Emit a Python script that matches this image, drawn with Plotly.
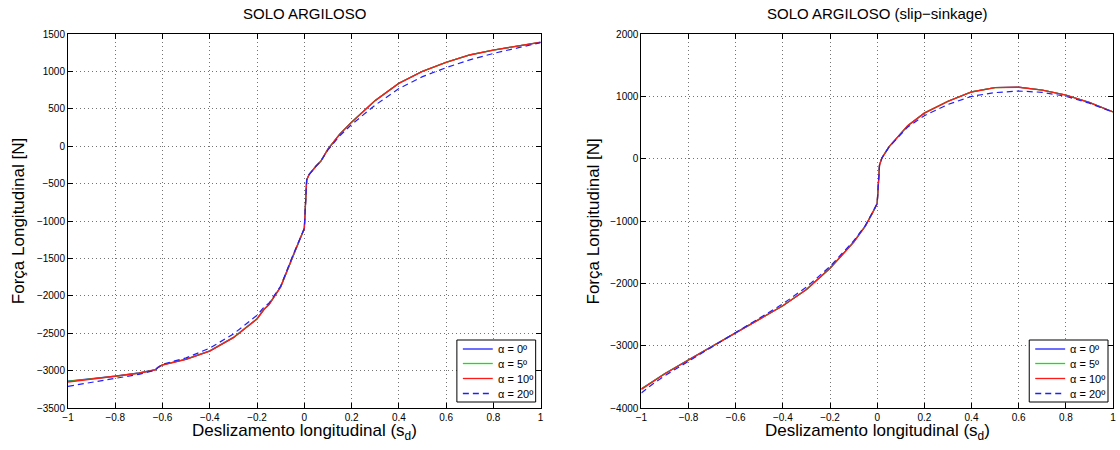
import plotly.graph_objects as go

# ---------------- data: left plot (SOLO ARGILOSO) ----------------
s_left = [-1.0, -0.9, -0.8, -0.7, -0.63, -0.62, -0.6, -0.5, -0.4, -0.3, -0.2, -0.17,
          -0.15, -0.1, -0.05, -0.01, 0.0, 0.01, 0.02, 0.05, 0.07, 0.1, 0.15, 0.2,
          0.25, 0.3, 0.4, 0.5, 0.6, 0.7, 0.8, 0.9, 1.0]
f_left_a0 = [-3140, -3108, -3075, -3030, -2988, -2958, -2922, -2846, -2736, -2556, -2306, -2178,
             -2118, -1880, -1480, -1180, -1100, -450, -380, -265, -200, -40, 162, 322,
             472, 612, 842, 1002, 1122, 1220, 1286, 1341, 1390]
f_left_a5 = [-3145, -3112, -3078, -3033, -2989, -2959, -2923, -2848, -2738, -2558, -2308, -2179,
             -2119, -1880, -1480, -1180, -1100, -450, -380, -265, -200, -40, 161, 321,
             471, 611, 841, 1001, 1121, 1220, 1285, 1340, 1390]
f_left_a10 = [-3152, -3116, -3081, -3036, -2990, -2960, -2925, -2850, -2740, -2560, -2310, -2180,
              -2120, -1880, -1480, -1180, -1100, -450, -380, -265, -200, -40, 160, 320,
              470, 610, 840, 1000, 1120, 1220, 1285, 1340, 1390]
f_left_a20 = [-3210, -3160, -3110, -3050, -2995, -2960, -2915, -2830, -2700, -2510, -2260, -2150,
              -2100, -1870, -1470, -1180, -1100, -450, -380, -265, -200, -50, 140, 290,
              420, 550, 770, 930, 1050, 1155, 1240, 1315, 1385]

# ---------------- data: right plot (slip-sinkage) ----------------
s_right = [-1.0, -0.95, -0.9, -0.8, -0.7, -0.6, -0.5, -0.4, -0.3, -0.2, -0.1, -0.05,
           -0.02, 0.0, 0.01, 0.02, 0.05, 0.08, 0.1, 0.13, 0.2, 0.3, 0.4, 0.5,
           0.6, 0.7, 0.8, 0.9, 1.0]
f_right_a0 = [-3690, -3565, -3445, -3228, -3008, -2788, -2578, -2358, -2098, -1758, -1340, -1080,
              -870, -720, -100, 10, 190, 320, 400, 530, 732, 922, 1072, 1142,
              1147, 1102, 1022, 902, 752]
f_right_a5 = [-3695, -3568, -3448, -3229, -3009, -2789, -2579, -2359, -2099, -1759, -1340, -1080,
              -870, -720, -100, 10, 190, 320, 400, 530, 731, 921, 1071, 1141,
              1146, 1101, 1021, 901, 751]
f_right_a10 = [-3700, -3570, -3450, -3230, -3010, -2790, -2580, -2360, -2100, -1760, -1340, -1080,
               -870, -720, -100, 10, 190, 320, 400, 530, 730, 920, 1070, 1140,
               1145, 1100, 1020, 900, 750]
f_right_a20 = [-3760, -3610, -3480, -3250, -3020, -2790, -2570, -2330, -2060, -1730, -1320, -1070,
               -865, -720, -100, 10, 185, 310, 385, 510, 690, 870, 1000, 1060,
               1085, 1065, 1000, 890, 745]

series_names = ["α = 0º", "α = 5º", "α = 10º", "α = 20º"]
series_colors = ["#2020ff", "#00ee00", "#ff1a1a", "#2020ff"]
series_dash = ["solid", "solid", "solid", "6px,4px"]
series_width = [1.2, 1.2, 1.4, 1.2]

x_ticks = [-1, -0.8, -0.6, -0.4, -0.2, 0, 0.2, 0.4, 0.6, 0.8, 1]
y_ticks_left = [-3500, -3000, -2500, -2000, -1500, -1000, -500, 0, 500, 1000, 1500]
y_ticks_right = [-4000, -3000, -2000, -1000, 0, 1000, 2000]

titles = ["SOLO ARGILOSO", "SOLO ARGILOSO (slip\u2212sinkage)"]
x_title = "Deslizamento longitudinal (s<sub>d</sub>)"
y_title = "Força Longitudinal [N]"

FONT = "Liberation Sans, Arial, sans-serif"
W, H = 1120, 450
ML, MR, MT, MB = 68, 4, 34, 42
PW = W - ML - MR
PH = H - MT - MB

def px_x(px):
    return (px - ML) / PW

def px_y(py):
    return (H - MB - py) / PH

fig = go.Figure()

left_sets = [f_left_a0, f_left_a5, f_left_a10, f_left_a20]
right_sets = [f_right_a0, f_right_a5, f_right_a10, f_right_a20]

for i in range(4):
    fig.add_trace(go.Scatter(x=s_left, y=left_sets[i], mode="lines", name=series_names[i],
                             line=dict(color=series_colors[i], width=series_width[i], dash=series_dash[i]),
                             xaxis="x", yaxis="y", showlegend=False))
for i in range(4):
    fig.add_trace(go.Scatter(x=s_right, y=right_sets[i], mode="lines", name=series_names[i],
                             line=dict(color=series_colors[i], width=series_width[i], dash=series_dash[i]),
                             xaxis="x2", yaxis="y2", showlegend=False))

plot_left_px = [68, 643]
plot_right_px = [542, W - MR]
d1 = [px_x(plot_left_px[0]), px_x(plot_right_px[0])]
d2 = [px_x(plot_left_px[1]), px_x(plot_right_px[1])]

axis_common = dict(showline=True, linecolor="black", linewidth=1, mirror="ticks",
                   ticks="inside", ticklen=5, tickcolor="black", tickwidth=1,
                   showgrid=True, gridcolor="rgba(0,0,0,0.55)", griddash="1px,3px", gridwidth=1,
                   zeroline=False, ticklabeloverflow="allow",
                   tickfont=dict(family=FONT, size=10, color="black"))

fig.update_layout(
    width=W, height=H,
    margin=dict(l=ML, r=MR, t=MT, b=MB),
    paper_bgcolor="white", plot_bgcolor="white",
    font=dict(family=FONT, color="black"),
    showlegend=False,
    xaxis=dict(domain=d1, range=[-1, 1], tickvals=x_ticks, anchor="y", **axis_common),
    yaxis=dict(domain=[0, 1], range=[-3500, 1500], tickvals=y_ticks_left, tickformat="d",
               anchor="x", **axis_common),
    xaxis2=dict(domain=d2, range=[-1, 1], tickvals=x_ticks, anchor="y2", **axis_common),
    yaxis2=dict(domain=[0, 1], range=[-4000, 2000], tickvals=y_ticks_right, tickformat="d",
                anchor="x2", **axis_common),
)

annotations = []
shapes = []
for dom, t in zip([d1, d2], titles):
    cx = (dom[0] + dom[1]) / 2
    annotations.append(dict(text=t, x=cx, y=1, xref="paper", yref="paper",
                            xanchor="center", yanchor="bottom", yshift=10, showarrow=False,
                            font=dict(family=FONT, size=15, color="black")))
    annotations.append(dict(text=x_title, x=cx, y=0, xref="paper", yref="paper",
                            xanchor="center", yanchor="top", yshift=-11, showarrow=False,
                            font=dict(family=FONT, size=17, color="black")))
for px in [18, 595]:
    annotations.append(dict(text=y_title, x=px_x(px), y=0.5, xref="paper", yref="paper",
                            xanchor="center", yanchor="middle", textangle=-90, showarrow=False,
                            font=dict(family=FONT, size=17, color="black")))

# hand-drawn legend boxes (MATLAB-style compact legend)
row_y = [349, 363.5, 378.5, 393.5]
for rp in plot_right_px:
    box_l, box_r = rp - 84, rp - 5
    shapes.append(dict(type="rect", xref="paper", yref="paper",
                       x0=px_x(box_l), x1=px_x(box_r), y0=px_y(402), y1=px_y(340),
                       line=dict(color="black", width=1), fillcolor="white", layer="above"))
    for i in range(4):
        shapes.append(dict(type="line", xref="paper", yref="paper",
                           x0=px_x(box_l + 6), x1=px_x(box_l + 36),
                           y0=px_y(row_y[i]), y1=px_y(row_y[i]),
                           line=dict(color=series_colors[i], width=1.3, dash=series_dash[i]),
                           layer="above"))
        annotations.append(dict(text=series_names[i], x=px_x(box_l + 39), y=px_y(row_y[i]),
                                xref="paper", yref="paper", xanchor="left", yanchor="middle",
                                showarrow=False, font=dict(family=FONT, size=11, color="black")))

fig.update_layout(annotations=annotations, shapes=shapes)

fig.write_html("out.html", config={"displayModeBar": False},
               post_script="document.body.style.margin='0';document.body.style.overflow='hidden';")
